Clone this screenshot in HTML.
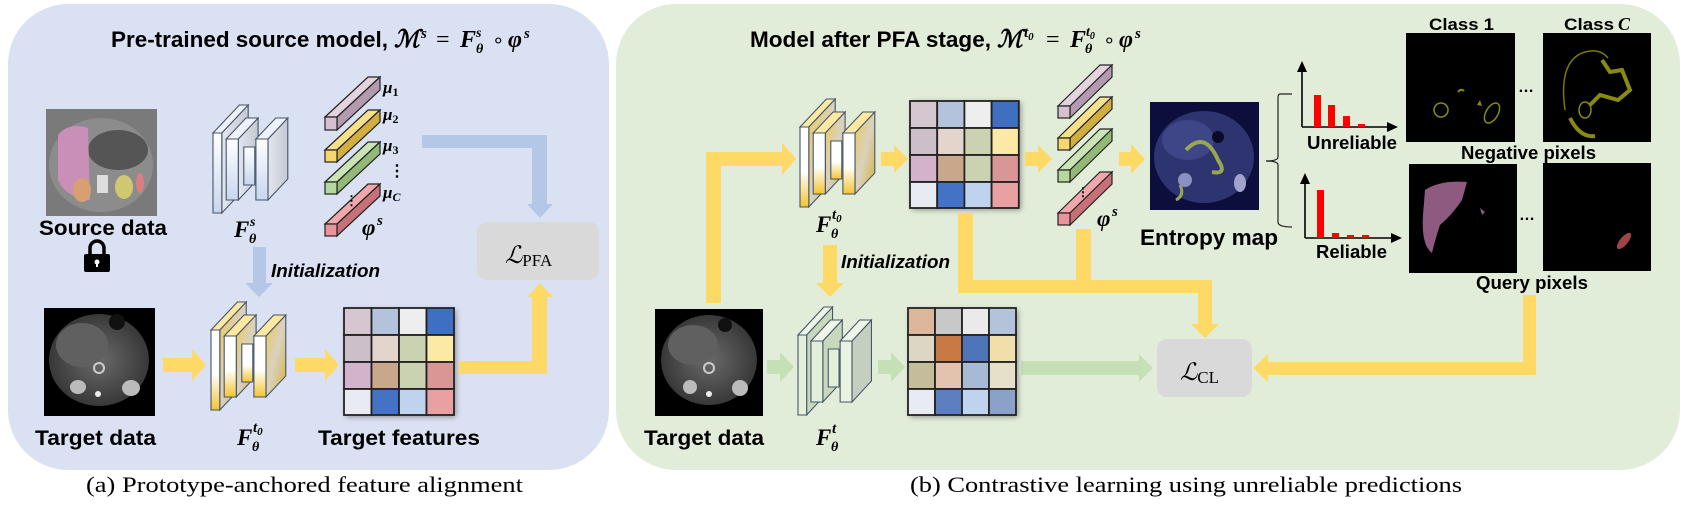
<!DOCTYPE html>
<html><head><meta charset="utf-8"><style>
html,body{margin:0;padding:0;background:#fff;}
svg{display:block;}
.b{font-family:"Liberation Sans",sans-serif;font-weight:bold;fill:#000;}
.m{font-family:"Liberation Serif",serif;font-style:italic;font-weight:bold;fill:#000;}
.r{font-family:"Liberation Serif",serif;fill:#000;}
</style></head><body>
<svg width="1690" height="506" viewBox="0 0 1690 506" xmlns="http://www.w3.org/2000/svg">
<defs>
<linearGradient id="gBlue" x1="0" y1="0" x2="0" y2="1"><stop offset="0" stop-color="#fff"/><stop offset="1" stop-color="#c9d6ee"/></linearGradient>
<linearGradient id="gYel" x1="0" y1="0" x2="0" y2="1"><stop offset="0" stop-color="#fff"/><stop offset="0.55" stop-color="#fff"/><stop offset="1" stop-color="#f4c430"/></linearGradient>
<linearGradient id="gYelS" x1="0" y1="0" x2="1" y2="1"><stop offset="0" stop-color="#f0c850"/><stop offset="0.5" stop-color="#d8d2c0"/><stop offset="1" stop-color="#d9b030"/></linearGradient>
<linearGradient id="gSide" x1="0" y1="0" x2="1" y2="0"><stop offset="0" stop-color="#e2e6ee"/><stop offset="1" stop-color="#c4c8d0"/></linearGradient>
<filter id="sh" x="-20%" y="-20%" width="140%" height="140%"><feGaussianBlur stdDeviation="3"/></filter>
<radialGradient id="ct" cx="0.5" cy="0.5" r="0.5"><stop offset="0" stop-color="#6a6a6a"/><stop offset="1" stop-color="#383838"/></radialGradient>
</defs>

<!-- panels -->
<rect x="8" y="4" width="601" height="466" rx="60" fill="#dae1f2"/>
<rect x="616" y="4" width="1064" height="466" rx="60" fill="#e2edd9"/>

<!-- captions -->
<text class="r" x="86" y="492" font-size="22" textLength="437" lengthAdjust="spacingAndGlyphs">(a) Prototype-anchored feature alignment</text>
<text class="r" x="910" y="492" font-size="22" textLength="552" lengthAdjust="spacingAndGlyphs">(b) Contrastive learning using unreliable predictions</text>

<!-- ===== Panel A ===== -->
<text class="b" x="111" y="47" font-size="22" textLength="277" lengthAdjust="spacingAndGlyphs">Pre-trained source model,</text>
<text class="m" x="394" y="47" font-size="24" font-weight="normal">ℳ</text>
<text class="m" x="421" y="38" font-size="15">s</text>
<text class="r" x="436" y="47" font-size="24">=</text>
<text class="m" x="460" y="47" font-size="24">F</text>
<text class="m" x="476" y="37" font-size="14">s</text>
<text class="m" x="476" y="53" font-size="14">θ</text>
<text class="r" x="492" y="47" font-size="20">∘</text>
<text class="m" x="508" y="47" font-size="24">φ</text>
<text class="m" x="524" y="38" font-size="15">s</text>

<!-- source image -->
<rect x="46" y="109" width="111" height="107" fill="#7a7a7a"/>
<ellipse cx="101" cy="165" rx="52" ry="47" fill="#8c8c8c"/>
<ellipse cx="118" cy="150" rx="30" ry="20" fill="#555"/>
<path d="M58 135 Q68 122 88 128 L90 200 Q66 198 58 180 Z" fill="#c98fb8"/>
<ellipse cx="82" cy="190" rx="9" ry="12" fill="#d8a070"/>
<ellipse cx="124" cy="187" rx="9" ry="12" fill="#d0c870"/>
<ellipse cx="140" cy="183" rx="4" ry="10" fill="#d88080"/>
<rect x="97" y="175" width="11" height="18" fill="#ddd"/>
<text class="b" x="39" y="235" font-size="21" textLength="128" lengthAdjust="spacingAndGlyphs">Source data</text>
<!-- lock -->
<path d="M90 255 V248 A7 7 0 0 1 104 248 V255" fill="none" stroke="#000" stroke-width="3.5"/>
<rect x="84" y="254" width="26" height="18" rx="2" fill="#000"/>
<circle cx="97" cy="262" r="2.5" fill="#fff"/><rect x="96" y="262" width="2" height="5" fill="#fff"/>

<!-- encoder Fs -->
<g transform="translate(213,105) scale(1.1,1)" stroke="#44546a" stroke-width="1">
<path d="M8 28 L32 0 L32 80 L8 108 Z" fill="url(#gSide)"/>
<path d="M0 28 L24 0 L32 0 L8 28 Z" fill="#eef2fa"/>
<rect x="0" y="28" width="8" height="80" fill="url(#gBlue)"/>
<path d="M23 34 L41 13 L41 74 L23 95 Z" fill="url(#gSide)"/>
<path d="M12 34 L30 13 L41 13 L23 34 Z" fill="#eef2fa"/>
<rect x="12" y="34" width="11" height="61" fill="url(#gBlue)"/>
<rect x="28" y="42" width="10" height="38" fill="url(#gBlue)"/>
<path d="M50 34 L68 13 L68 74 L50 95 Z" fill="url(#gSide)"/>
<path d="M39 34 L57 13 L68 13 L50 34 Z" fill="#eef2fa"/>
<rect x="39" y="34" width="11" height="61" fill="url(#gBlue)"/>
</g>
<text class="m" x="234" y="237" font-size="23">F</text>
<text class="m" x="250" y="226" font-size="14">s</text>
<text class="m" x="249" y="243" font-size="14">θ</text>

<!-- prototypes A -->
<g stroke="#222" stroke-width="1.2">
<path d="M325 117 L368 77 L380 77 L337 117 Z" fill="#e4d3df"/><path d="M337 117 L380 77 L380 90 L337 130 Z" fill="#b49aae"/><rect x="325" y="117" width="12" height="13" fill="#d5bfd0"/>
<path d="M325 150 L368 110 L380 110 L337 150 Z" fill="#f8e08a"/><path d="M337 150 L380 110 L380 122 L337 162 Z" fill="#d0ae40"/><rect x="325" y="150" width="12" height="12" fill="#f5d76e"/>
<path d="M325 182 L368 142 L380 142 L337 182 Z" fill="#c9e5b5"/><path d="M337 182 L380 142 L380 154 L337 194 Z" fill="#93b878"/><rect x="325" y="182" width="12" height="12" fill="#b5d99c"/>
<path d="M325 224 L368 184 L380 184 L337 224 Z" fill="#f0a8ad"/><path d="M337 224 L380 184 L380 196 L337 236 Z" fill="#c87078"/><rect x="325" y="224" width="12" height="12" fill="#e8949a"/>
</g>
<text class="m" x="383" y="93" font-size="17">μ<tspan font-size="12" dy="3" font-style="normal">1</tspan></text>
<text class="m" x="383" y="120" font-size="17">μ<tspan font-size="12" dy="3" font-style="normal">2</tspan></text>
<text class="m" x="383" y="151" font-size="17">μ<tspan font-size="12" dy="3" font-style="normal">3</tspan></text>
<text class="m" x="383" y="198" font-size="17">μ<tspan font-size="12" dy="3">C</tspan></text>
<text class="b" x="389" y="176" font-size="16">⋮</text>
<text class="b" x="345" y="205" font-size="13">⋮</text>
<text class="m" x="362" y="235" font-size="23">φ</text>
<text class="m" x="377" y="225" font-size="15">s</text>

<!-- blue arrow to LPFA -->
<path d="M422 135 H547 V204 H553 L540 218 L527 204 H532 V148 H422 Z" fill="#b4c7e7"/>
<!-- LPFA box -->
<rect x="477" y="222" width="122" height="58" rx="10" fill="#d9d9d9"/>
<text class="r" x="505" y="263" font-size="24" font-style="italic">ℒ<tspan font-size="17" font-style="normal" dy="3">PFA</tspan></text>

<!-- init arrow -->
<path d="M253 247 H266 V283 H273 L259 297 L245 283 H253 Z" fill="#b4c7e7"/>
<text class="b" x="271" y="277" font-size="18" font-style="italic" textLength="109" lengthAdjust="spacingAndGlyphs">Initialization</text>

<!-- target image A -->
<rect x="44" y="308" width="111" height="108" fill="#000"/>
<ellipse cx="99" cy="360" rx="50" ry="46" fill="url(#ct)"/>
<ellipse cx="82" cy="345" rx="26" ry="22" fill="#606060"/>
<circle cx="117" cy="322" r="8" fill="#111"/>
<ellipse cx="78" cy="387" rx="8" ry="7" fill="#bbb"/><ellipse cx="131" cy="388" rx="9" ry="8" fill="#bbb"/>
<circle cx="99" cy="368" r="5" fill="none" stroke="#ccc" stroke-width="2"/><circle cx="98" cy="394" r="3" fill="#eee"/>
<text class="b" x="35" y="445" font-size="21" textLength="121" lengthAdjust="spacingAndGlyphs">Target data</text>

<!-- arrows -->
<path d="M163 358 H192 V349 L206 365 L192 381 V372 H163 Z" fill="#ffd966"/>
<path d="M295 358 H325 V349 L339 365 L325 381 V372 H295 Z" fill="#ffd966"/>

<!-- encoder Ft0 A -->
<g transform="translate(211,302) scale(1.1,1)" stroke="#44546a" stroke-width="1">
<path d="M8 28 L32 0 L32 80 L8 108 Z" fill="url(#gYelS)"/>
<path d="M0 28 L24 0 L32 0 L8 28 Z" fill="#fce8a0"/>
<rect x="0" y="28" width="8" height="80" fill="url(#gYel)"/>
<path d="M23 34 L41 13 L41 74 L23 95 Z" fill="url(#gYelS)"/>
<path d="M12 34 L30 13 L41 13 L23 34 Z" fill="#fce8a0"/>
<rect x="12" y="34" width="11" height="61" fill="url(#gYel)"/>
<rect x="28" y="42" width="10" height="38" fill="url(#gYel)"/>
<path d="M50 34 L68 13 L68 74 L50 95 Z" fill="url(#gYelS)"/>
<path d="M39 34 L57 13 L68 13 L50 34 Z" fill="#fce8a0"/>
<rect x="39" y="34" width="11" height="61" fill="url(#gYel)"/>
</g>
<text class="m" x="237" y="445" font-size="23">F</text>
<text class="m" x="253" y="432" font-size="15">t<tspan font-size="11" dy="3">0</tspan></text>
<text class="m" x="252" y="451" font-size="14">θ</text>

<!-- grid A -->
<rect x="346" y="310" width="110" height="107" fill="#555" filter="url(#sh)" opacity="0.6"/>
<g stroke="#222" stroke-width="1.8">
<rect x="344" y="308" width="27.5" height="27" fill="#d5c6cf"/><rect x="371.5" y="308" width="27.5" height="27" fill="#b4c3dc"/><rect x="399" y="308" width="27.5" height="27" fill="#eeeeee"/><rect x="426.5" y="308" width="27.5" height="27" fill="#3f6fc0"/>
<rect x="344" y="335" width="27.5" height="27" fill="#cdbfc9"/><rect x="371.5" y="335" width="27.5" height="27" fill="#e3d5cb"/><rect x="399" y="335" width="27.5" height="27" fill="#cbd2b1"/><rect x="426.5" y="335" width="27.5" height="27" fill="#fde9a6"/>
<rect x="344" y="362" width="27.5" height="27" fill="#d3b3cc"/><rect x="371.5" y="362" width="27.5" height="27" fill="#c9a78a"/><rect x="399" y="362" width="27.5" height="27" fill="#cbd2b1"/><rect x="426.5" y="362" width="27.5" height="27" fill="#d99694"/>
<rect x="344" y="389" width="27.5" height="26" fill="#e8ebf2"/><rect x="371.5" y="389" width="27.5" height="26" fill="#4472c4"/><rect x="399" y="389" width="27.5" height="26" fill="#c0d3ee"/><rect x="426.5" y="389" width="27.5" height="26" fill="#e8a0a0"/>
</g>
<text class="b" x="318" y="445" font-size="21" textLength="162" lengthAdjust="spacingAndGlyphs">Target features</text>
<!-- yellow to LPFA -->
<path d="M459 361 H532 V297 H527 L540 283 L553 297 H547 V374 H459 Z" fill="#ffd966"/>

<!-- ===== Panel B ===== -->
<text class="b" x="750" y="47" font-size="22" textLength="241" lengthAdjust="spacingAndGlyphs">Model after PFA stage,</text>
<text class="m" x="997" y="47" font-size="24" font-weight="normal">ℳ</text>
<text class="m" x="1024" y="37" font-size="15">t<tspan font-size="11" dy="3">0</tspan></text>
<text class="r" x="1046" y="47" font-size="24">=</text>
<text class="m" x="1070" y="47" font-size="24">F</text>
<text class="m" x="1086" y="36" font-size="14">t<tspan font-size="10" dy="3">0</tspan></text>
<text class="m" x="1085" y="53" font-size="14">θ</text>
<text class="r" x="1103" y="47" font-size="20">∘</text>
<text class="m" x="1119" y="47" font-size="24">φ</text>
<text class="m" x="1135" y="38" font-size="15">s</text>

<!-- yellow L path from target image -->
<path d="M706 303 V152 H782 V143 L796 159 L782 175 V166 H721 V303 Z" fill="#ffd966"/>

<!-- encoder Ft0 B -->
<g transform="translate(800,99) scale(1.1,1)" stroke="#44546a" stroke-width="1">
<path d="M8 28 L32 0 L32 80 L8 108 Z" fill="url(#gYelS)"/>
<path d="M0 28 L24 0 L32 0 L8 28 Z" fill="#fce8a0"/>
<rect x="0" y="28" width="8" height="80" fill="url(#gYel)"/>
<path d="M23 34 L41 13 L41 74 L23 95 Z" fill="url(#gYelS)"/>
<path d="M12 34 L30 13 L41 13 L23 34 Z" fill="#fce8a0"/>
<rect x="12" y="34" width="11" height="61" fill="url(#gYel)"/>
<rect x="28" y="42" width="10" height="38" fill="url(#gYel)"/>
<path d="M50 34 L68 13 L68 74 L50 95 Z" fill="url(#gYelS)"/>
<path d="M39 34 L57 13 L68 13 L50 34 Z" fill="#fce8a0"/>
<rect x="39" y="34" width="11" height="61" fill="url(#gYel)"/>
</g>
<text class="m" x="816" y="232" font-size="23">F</text>
<text class="m" x="832" y="219" font-size="15">t<tspan font-size="11" dy="3">0</tspan></text>
<text class="m" x="831" y="238" font-size="14">θ</text>

<path d="M881 152 H894 V145 L908 159 L894 173 V166 H881 Z" fill="#ffd966"/>
<!-- grid B top -->
<rect x="912" y="102" width="109" height="108" fill="#555" filter="url(#sh)" opacity="0.6"/>
<g stroke="#222" stroke-width="1.8">
<rect x="910" y="101" width="27.2" height="27" fill="#d5c6cf"/><rect x="937.2" y="101" width="27.2" height="27" fill="#b4c3dc"/><rect x="964.4" y="101" width="27.2" height="27" fill="#eeeeee"/><rect x="991.6" y="101" width="27.2" height="27" fill="#3f6fc0"/>
<rect x="910" y="128" width="27.2" height="27" fill="#cdbfc9"/><rect x="937.2" y="128" width="27.2" height="27" fill="#e3d5cb"/><rect x="964.4" y="128" width="27.2" height="27" fill="#cbd2b1"/><rect x="991.6" y="128" width="27.2" height="27" fill="#fde9a6"/>
<rect x="910" y="155" width="27.2" height="27" fill="#d3b3cc"/><rect x="937.2" y="155" width="27.2" height="27" fill="#c9a78a"/><rect x="964.4" y="155" width="27.2" height="27" fill="#cbd2b1"/><rect x="991.6" y="155" width="27.2" height="27" fill="#d99694"/>
<rect x="910" y="182" width="27.2" height="26" fill="#e8ebf2"/><rect x="937.2" y="182" width="27.2" height="26" fill="#4472c4"/><rect x="964.4" y="182" width="27.2" height="26" fill="#c0d3ee"/><rect x="991.6" y="182" width="27.2" height="26" fill="#e8a0a0"/>
</g>
<path d="M1025 152 H1038 V145 L1052 159 L1038 173 V166 H1025 Z" fill="#ffd966"/>

<!-- prototypes B -->
<g stroke="#222" stroke-width="1.2">
<path d="M1058 106 L1100 65 L1112 65 L1070 106 Z" fill="#e4d3df"/><path d="M1070 106 L1112 65 L1112 77 L1070 118 Z" fill="#b49aae"/><rect x="1058" y="106" width="12" height="12" fill="#d5bfd0"/>
<path d="M1058 138 L1100 97 L1112 97 L1070 138 Z" fill="#f8e08a"/><path d="M1070 138 L1112 97 L1112 109 L1070 150 Z" fill="#d0ae40"/><rect x="1058" y="138" width="12" height="12" fill="#f5d76e"/>
<path d="M1058 170 L1100 129 L1112 129 L1070 170 Z" fill="#c9e5b5"/><path d="M1070 170 L1112 129 L1112 141 L1070 182 Z" fill="#93b878"/><rect x="1058" y="170" width="12" height="12" fill="#b5d99c"/>
<path d="M1058 213 L1100 172 L1112 172 L1070 213 Z" fill="#f0a8ad"/><path d="M1070 213 L1112 172 L1112 184 L1070 225 Z" fill="#c87078"/><rect x="1058" y="213" width="12" height="12" fill="#e8949a"/>
</g>
<text class="b" x="1077" y="196" font-size="12">⋮</text>
<text class="m" x="1097" y="226" font-size="23">φ</text>
<text class="m" x="1112" y="216" font-size="15">s</text>
<path d="M1119 152 H1131 V144 L1145 159 L1131 174 V166 H1119 Z" fill="#ffd966"/>

<!-- yellow lines down to LCL -->
<path d="M958 213 H973 V280 H1076 V229 H1091 V280 H1212 V324 H1219 L1205 338 L1191 324 H1198 V293 H958 Z" fill="#ffd966"/>

<!-- entropy map -->
<rect x="1150" y="102" width="109" height="108" fill="#0c0e3c"/>
<ellipse cx="1204" cy="157" rx="50" ry="46" fill="#2e3470"/>
<ellipse cx="1188" cy="140" rx="26" ry="20" fill="#3e4688"/>
<circle cx="1218" cy="137" r="6" fill="#0a0a28"/>
<path d="M1186 150 Q1205 130 1218 160 Q1228 175 1212 172" fill="none" stroke="#98a850" stroke-width="4"/>
<path d="M1180 185 Q1185 195 1176 200" fill="none" stroke="#98a850" stroke-width="3"/>
<ellipse cx="1185" cy="180" rx="7" ry="7" fill="#8a90c0"/><ellipse cx="1240" cy="183" rx="6" ry="9" fill="#a0a4cc"/>
<text class="b" x="1140" y="245" font-size="22" textLength="138" lengthAdjust="spacingAndGlyphs">Entropy map</text>

<!-- brace -->
<path d="M1292 94 H1280 Q1278 94 1278 98 V157 Q1278 161 1266 161 Q1278 161 1278 165 V222 Q1278 227 1292 227" fill="none" stroke="#222" stroke-width="1.2"/>

<!-- unreliable chart -->
<line x1="1302" y1="70" x2="1302" y2="127" stroke="#000" stroke-width="1.6"/>
<path d="M1297 72 L1302 61 L1307 72 Z" fill="#000"/>
<line x1="1302" y1="127" x2="1388" y2="127" stroke="#000" stroke-width="1.6"/>
<path d="M1387 122 L1398 127 L1387 132 Z" fill="#000"/>
<rect x="1314" y="95" width="7" height="32" fill="#f00"/><rect x="1328" y="105" width="7" height="22" fill="#f00"/><rect x="1343" y="116" width="7" height="11" fill="#f00"/><rect x="1358" y="124" width="7" height="3" fill="#f00"/>
<text class="b" x="1307" y="149" font-size="18" textLength="90" lengthAdjust="spacingAndGlyphs">Unreliable</text>

<!-- reliable chart -->
<line x1="1305" y1="183" x2="1305" y2="238" stroke="#000" stroke-width="1.6"/>
<path d="M1300 184 L1305 173 L1310 184 Z" fill="#000"/>
<line x1="1305" y1="238" x2="1392" y2="238" stroke="#000" stroke-width="1.6"/>
<path d="M1391 233 L1402 238 L1391 243 Z" fill="#000"/>
<rect x="1317" y="190" width="7" height="48" fill="#f00"/><rect x="1332" y="233" width="7" height="5" fill="#f00"/><rect x="1347" y="235" width="7" height="3" fill="#f00"/><rect x="1362" y="235" width="7" height="3" fill="#f00"/>
<text class="b" x="1316" y="258" font-size="18" textLength="71" lengthAdjust="spacingAndGlyphs">Reliable</text>

<!-- class images -->
<text class="b" x="1429" y="30" font-size="17" textLength="65" lengthAdjust="spacingAndGlyphs">Class 1</text>
<text class="b" x="1564" y="30" font-size="17" textLength="50" lengthAdjust="spacingAndGlyphs">Class</text>
<text class="m" x="1618" y="30" font-size="18" font-weight="normal">C</text>
<rect x="1406" y="33" width="109" height="109" fill="#000"/>
<ellipse cx="1441" cy="110" rx="7" ry="7" fill="none" stroke="#8a8a10" stroke-width="1.5"/>
<ellipse cx="1492" cy="113" rx="6" ry="11" transform="rotate(30 1492 113)" fill="none" stroke="#8a8a10" stroke-width="1.5"/>
<path d="M1458 92 q3 -4 6 -1" stroke="#8a8a10" stroke-width="2" fill="none"/><path d="M1477 105 l3 -5 l2 6 z" fill="#8a8a10"/>
<text class="b" x="1518" y="92" font-size="16">…</text>
<rect x="1543" y="33" width="108" height="109" fill="#000"/>
<path d="M1565 110 Q1558 60 1585 52 Q1600 48 1608 58" fill="none" stroke="#7a7a00" stroke-width="1.5"/>
<path d="M1602 60 L1610 72 L1622 70 L1630 90 L1618 100 L1600 95 L1590 105" fill="none" stroke="#8a8a10" stroke-width="4"/>
<path d="M1570 118 Q1580 138 1595 136" fill="none" stroke="#8a8a10" stroke-width="4"/>
<ellipse cx="1585" cy="110" rx="6" ry="8" fill="none" stroke="#8a8a10" stroke-width="1.5"/>
<text class="b" x="1461" y="159" font-size="18" textLength="135" lengthAdjust="spacingAndGlyphs">Negative pixels</text>

<rect x="1409" y="164" width="108" height="109" fill="#000"/>
<path d="M1425 190 Q1440 180 1467 182 L1462 200 Q1452 215 1440 225 Q1435 240 1432 253 Q1421 245 1423 215 Z" fill="#8e5a80"/>
<path d="M1480 208 l5 4 l-3 3 z" fill="#8e5a80"/>
<text class="b" x="1519" y="220" font-size="16">…</text>
<rect x="1543" y="163" width="108" height="108" fill="#000"/>
<ellipse cx="1624" cy="241" rx="4" ry="10" transform="rotate(40 1624 241)" fill="#a04545"/>
<text class="b" x="1476" y="289" font-size="18" textLength="112" lengthAdjust="spacingAndGlyphs">Query pixels</text>

<!-- yellow from query pixels -->
<path d="M1523 295 H1536 V375 H1268 V382 L1253 368 L1268 354 V362 H1523 Z" fill="#ffd966"/>

<!-- LCL box -->
<rect x="1157" y="339" width="95" height="58" rx="10" fill="#d9d9d9"/>
<text class="r" x="1180" y="380" font-size="24" font-style="italic">ℒ<tspan font-size="17" font-style="normal" dy="3">CL</tspan></text>

<!-- target image B -->
<rect x="655" y="309" width="108" height="107" fill="#000"/>
<ellipse cx="709" cy="360" rx="48" ry="45" fill="url(#ct)"/>
<ellipse cx="693" cy="345" rx="25" ry="20" fill="#606060"/>
<circle cx="725" cy="325" r="7" fill="#111"/>
<ellipse cx="690" cy="387" rx="7" ry="7" fill="#bbb"/><ellipse cx="740" cy="388" rx="8" ry="8" fill="#bbb"/>
<circle cx="709" cy="368" r="5" fill="none" stroke="#ccc" stroke-width="2"/><circle cx="709" cy="394" r="3" fill="#eee"/>
<text class="b" x="644" y="445" font-size="21" textLength="120" lengthAdjust="spacingAndGlyphs">Target data</text>

<!-- green arrows -->
<path d="M767 360 H780 V352 L794 367 L780 382 V374 H767 Z" fill="#c5e0b4"/>
<path d="M878 360 H891 V352 L905 367 L891 382 V374 H878 Z" fill="#c5e0b4"/>
<path d="M1021 361 H1139 V354 L1153 368 L1139 382 V375 H1021 Z" fill="#c5e0b4"/>

<!-- init arrow yellow -->
<path d="M823 245 H837 V283 H844 L830 297 L816 283 H823 Z" fill="#ffd966"/>
<text class="b" x="841" y="268" font-size="18" font-style="italic" textLength="109" lengthAdjust="spacingAndGlyphs">Initialization</text>

<!-- encoder Ft (green) -->
<g transform="translate(798,307) scale(1.08,1)" stroke="#44546a" stroke-width="1">
<path d="M8 28 L32 0 L32 80 L8 108 Z" fill="#c8d8bc"/>
<path d="M0 28 L24 0 L32 0 L8 28 Z" fill="#eef6e8"/>
<rect x="0" y="28" width="8" height="80" fill="#e2f0d9"/>
<path d="M23 34 L41 13 L41 74 L23 95 Z" fill="#c8d8bc"/>
<path d="M12 34 L30 13 L41 13 L23 34 Z" fill="#eef6e8"/>
<rect x="12" y="34" width="11" height="61" fill="#e2f0d9"/>
<rect x="28" y="42" width="10" height="38" fill="#e2f0d9"/>
<path d="M50 34 L68 13 L68 74 L50 95 Z" fill="#c5cfc0"/>
<path d="M39 34 L57 13 L68 13 L50 34 Z" fill="#eef6e8"/>
<rect x="39" y="34" width="11" height="61" fill="#e8f4e0"/>
</g>
<text class="m" x="816" y="445" font-size="23">F</text>
<text class="m" x="832" y="433" font-size="15">t</text>
<text class="m" x="831" y="451" font-size="14">θ</text>

<!-- grid C bottom -->
<rect x="910" y="310" width="108" height="107" fill="#555" filter="url(#sh)" opacity="0.6"/>
<g stroke="#222" stroke-width="1.8">
<rect x="908" y="308" width="27" height="27" fill="#dcb79c"/><rect x="935" y="308" width="27" height="27" fill="#c8c8c8"/><rect x="962" y="308" width="27" height="27" fill="#eaeaea"/><rect x="989" y="308" width="27" height="27" fill="#b4c3dc"/>
<rect x="908" y="335" width="27" height="27" fill="#dcd6c4"/><rect x="935" y="335" width="27" height="27" fill="#c97a44"/><rect x="962" y="335" width="27" height="27" fill="#4f74b8"/><rect x="989" y="335" width="27" height="27" fill="#f0dfaa"/>
<rect x="908" y="362" width="27" height="27" fill="#c5bc99"/><rect x="935" y="362" width="27" height="27" fill="#e3c2ae"/><rect x="962" y="362" width="27" height="27" fill="#a7b9d4"/><rect x="989" y="362" width="27" height="27" fill="#e6dfca"/>
<rect x="908" y="389" width="27" height="26" fill="#e8ebf2"/><rect x="935" y="389" width="27" height="26" fill="#5b7fc0"/><rect x="962" y="389" width="27" height="26" fill="#c0d3ee"/><rect x="989" y="389" width="27" height="26" fill="#8aa1c9"/>
</g>
</svg>
</body></html>
